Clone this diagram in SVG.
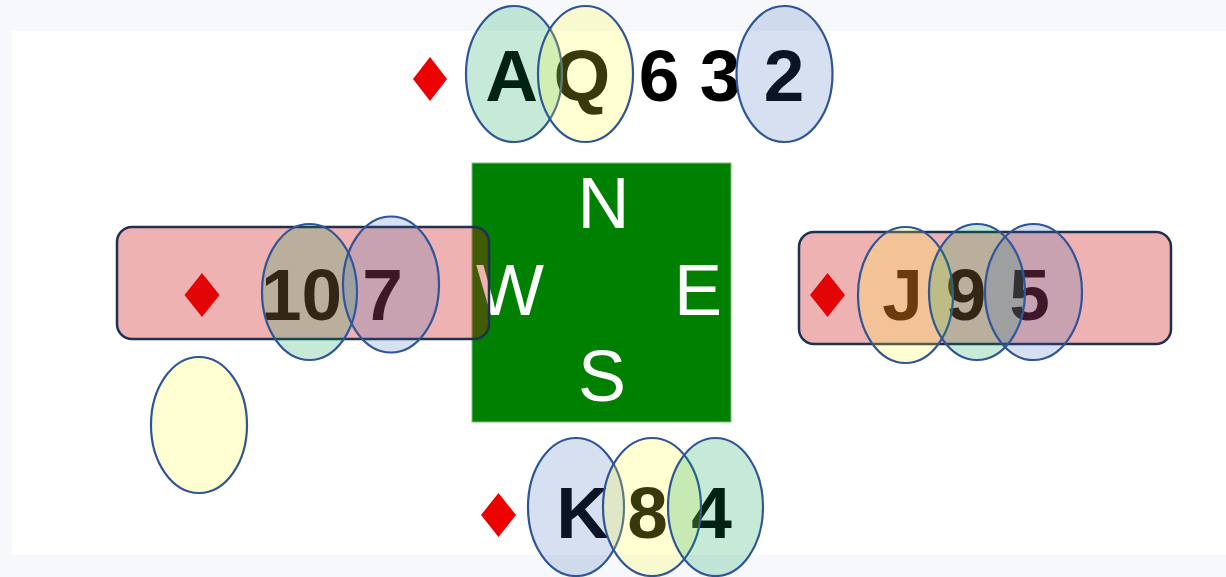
<svg xmlns="http://www.w3.org/2000/svg" width="1226" height="577" viewBox="0 0 1226 577">
<style>
.card{font-family:"Liberation Sans",Arial,sans-serif;font-weight:bold;font-size:73px;fill:#000;text-anchor:middle}
.dir{font-family:"Liberation Sans",Arial,sans-serif;font-size:72px;fill:#fff;text-anchor:middle}
.dia{fill:#ee0000}
.ov{stroke:#2f5597;stroke-width:2.2}
.g{fill:#009f4d;fill-opacity:0.22}
.y{fill:#ffff33;fill-opacity:0.22}
.b{fill:#3264b4;fill-opacity:0.2}
.box{fill:#cc1010;fill-opacity:0.32;stroke:#1f3050;stroke-width:2.5}
</style>
<rect x="0" y="0" width="1226" height="577" fill="#f7f8fc"/>
<rect x="12" y="31" width="1214" height="524" fill="#ffffff"/>

<g id="compass">
<rect x="472" y="163" width="259" height="259" fill="#008000" stroke="#7fbf7f" stroke-width="1"/>
<text class="dir" x="603.5" y="228">N</text>
<text class="dir" x="510" y="315">W</text>
<text class="dir" x="698" y="315">E</text>
<text class="dir" x="602" y="401">S</text>
</g>

<g id="north">
<polygon class="dia" points="430,57 447,79 430,101 413,79"/>
<text class="card" x="511.5" y="101">A</text>
<text class="card" x="582" y="101">Q</text>
<text class="card" x="659" y="101">6</text>
<text class="card" x="720" y="101">3</text>
<text class="card" x="784" y="101">2</text>
<ellipse class="ov g" cx="514" cy="74" rx="48" ry="68"/>
<ellipse class="ov y" cx="585.5" cy="74" rx="47.5" ry="68"/>
<ellipse class="ov b" cx="784.5" cy="74" rx="48" ry="68"/>
</g>

<g id="west">
<polygon class="dia" points="202,273 219.5,295 202,317 184.5,295"/>
<text class="card" x="301.5" y="320">10</text>
<text class="card" x="382.5" y="320">7</text>
<rect class="box" x="117" y="227" width="372" height="112" rx="15" ry="15"/>
<ellipse class="ov g" cx="309.5" cy="292" rx="47.5" ry="68"/>
<ellipse class="ov b" cx="391" cy="284.5" rx="48" ry="68"/>
</g>

<g id="west-extra">
<ellipse class="ov y" cx="199" cy="425" rx="48" ry="68"/>
</g>

<g id="east">
<polygon class="dia" points="827.5,273 845,295 827.5,317 810,295"/>
<text class="card" x="902.5" y="320">J</text>
<text class="card" x="966" y="320">9</text>
<text class="card" x="1029.5" y="320">5</text>
<rect class="box" x="799" y="232" width="372" height="112" rx="15" ry="15"/>
<ellipse class="ov y" cx="905.5" cy="295" rx="47.5" ry="68"/>
<ellipse class="ov g" cx="977" cy="292" rx="48" ry="68"/>
<ellipse class="ov b" cx="1033.5" cy="292" rx="48.5" ry="68"/>
</g>

<g id="south">
<polygon class="dia" points="498.5,493 516,515 498.5,537 481,515"/>
<text class="card" x="582.5" y="538">K</text>
<text class="card" x="647.5" y="538">8</text>
<text class="card" x="711.5" y="538">4</text>
<ellipse class="ov b" cx="576" cy="507" rx="48" ry="69"/>
<ellipse class="ov y" cx="652" cy="507" rx="49" ry="69"/>
<ellipse class="ov g" cx="715.5" cy="507" rx="47.5" ry="69"/>
</g>

<g id="connectors"></g>
</svg>
